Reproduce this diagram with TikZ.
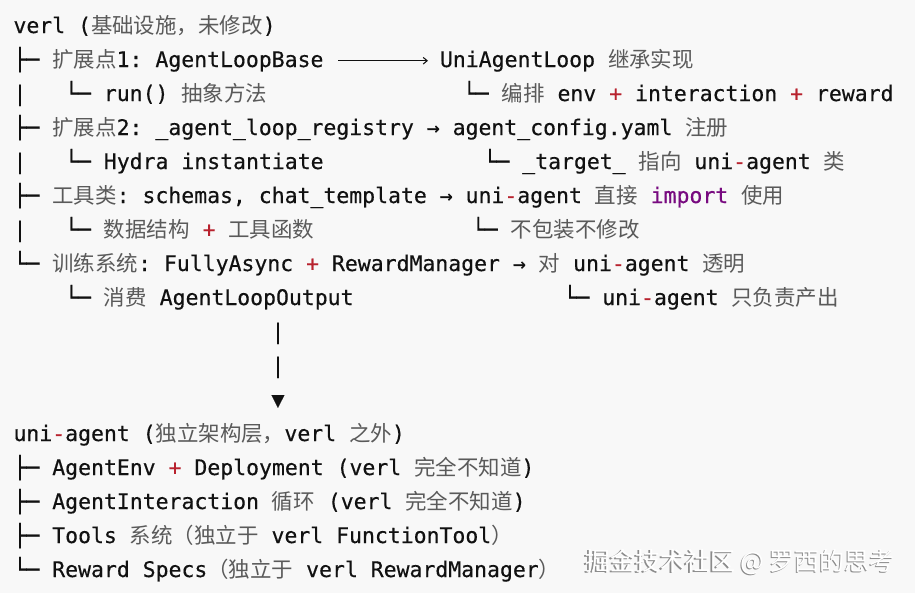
\documentclass[tikz,border=0pt]{standalone}
\usepackage{fontspec}
\usepackage{xcolor}
\usepackage{tikz}
\usetikzlibrary{arrows.meta}
\setmonofont{DejaVu Sans Mono}[FakeBold=0.4]
\newfontfamily\zhfont{Noto Sans CJK SC}
\definecolor{codebg}{HTML}{F8F8F8}
\definecolor{codeblack}{HTML}{111111}
\definecolor{zhgray}{HTML}{5A5A5A}
\definecolor{opred}{HTML}{B8222E}
\definecolor{kwpurple}{HTML}{780A80}
\definecolor{wmgray}{HTML}{8C8C8C}
\newcommand{\codefont}{\ttfamily\fontsize{16.1pt}{20pt}\selectfont}
\newcommand{\zh}[1]{{\zhfont\color{zhgray}#1}}
\newcommand{\op}[1]{{\color{opred}#1}}
\newcommand{\kw}[1]{{\color{kwpurple}#1}}
\tikzset{
 codeline/.style={anchor=base west, inner sep=0pt, outer sep=0pt, font=\codefont, text=codeblack},
 connector/.style={-{Straight Barb[length=3pt,width=5pt]}, line width=0.8pt, codeblack},
 watermark/.style={anchor=base, inner sep=0pt, font=\zhfont\fontsize{18.75pt}{22pt}\selectfont}
}

\begin{document}
\begin{tikzpicture} [x=0.75pt, y=-0.75pt]
\useasboundingbox (0,0) rectangle (915,593);
\fill[codebg] (0,0) rectangle (915,593);
% verl side
\node[codeline] (verl) at (13.5,33) {verl (\zh{基础设施，未修改})};
\node[codeline] (ext1) at (13.5,67) {├─ \zh{扩展点}1: AgentLoopBase};
\node[codeline] (uniloop) at (440,67) {UniAgentLoop \zh{继承实现}};
\draw[connector] ([yshift=4.7pt]ext1.base east) -- ([yshift=4.7pt]uniloop.base west) [shorten <=11pt, shorten >=9pt];
\foreach \row in {101,169,237} {
 \node[codeline] (bar\row) at (13.5,\row) {|};
}
\node[codeline] (ext1run) at (65.1,101) {└─ run() \zh{抽象方法}};
\node[codeline] (uniorch) at (462.9,101) {└─ \zh{编排} env \op{+} interaction \op{+} reward};
\node[codeline] (ext2) at (13.5,135) {├─ \zh{扩展点}2: \_agent\_loop\_registry → agent\_config.yaml \zh{注册}};
\node[codeline] (ext2hydra) at (65.1,169) {└─ Hydra instantiate};
\node[codeline] (ext2target) at (483.5,169) {└─ \_target\_ \zh{指向} uni\op{-}agent \zh{类}};
\node[codeline] (tools) at (13.5,203) {├─ \zh{工具类}: schemas, chat\_template → uni\op{-}agent \zh{直接} \kw{import} \zh{使用}};
\node[codeline] (toolsdata) at (65.1,237) {└─ \zh{数据结构} \op{+} \zh{工具函数}};
\node[codeline] (toolsnowrap) at (471.9,237) {└─ \zh{不包装不修改}};
\node[codeline] (train) at (13.5,271) {└─ \zh{训练系统}: FullyAsync \op{+} RewardManager → \zh{对} uni\op{-}agent \zh{透明}};
\node[codeline] (trainuse) at (65.1,305) {└─ \zh{消费} AgentLoopOutput};
\node[codeline] (trainonly) at (563.5,305) {└─ uni\op{-}agent \zh{只负责产出}};
% down arrow
\foreach \glyph/\row in {|/339,|/373,▼/407} {
 \node[codeline] (down\row) at (271.5,\row) {\glyph};
}
% uni-agent side
\node[codeline] (uni) at (13.5,441) {uni\op{-}agent (\zh{独立架构层，}verl \zh{之外})};
\node[codeline] (unienv) at (13.5,475) {├─ AgentEnv \op{+} Deployment (verl \zh{完全不知道})};
\node[codeline] (uniinter) at (13.5,509) {├─ AgentInteraction \zh{循环} (verl \zh{完全不知道})};
\node[codeline] (unitools) at (13.5,543) {├─ Tools \zh{系统（独立于} verl FunctionTool\zh{）}};
\node[codeline] (unireward) at (13.5,577) {└─ Reward Specs\zh{（独立于} verl RewardManager\zh{）}};
% watermark
\node[watermark, text=wmgray] (wmshadow) at (738.7,571) {掘金技术社区 @ 罗西的思考};
\node[watermark, text=white] (wm) at (740,570) {掘金技术社区 @ 罗西的思考};
\end{tikzpicture}
\end{document}
